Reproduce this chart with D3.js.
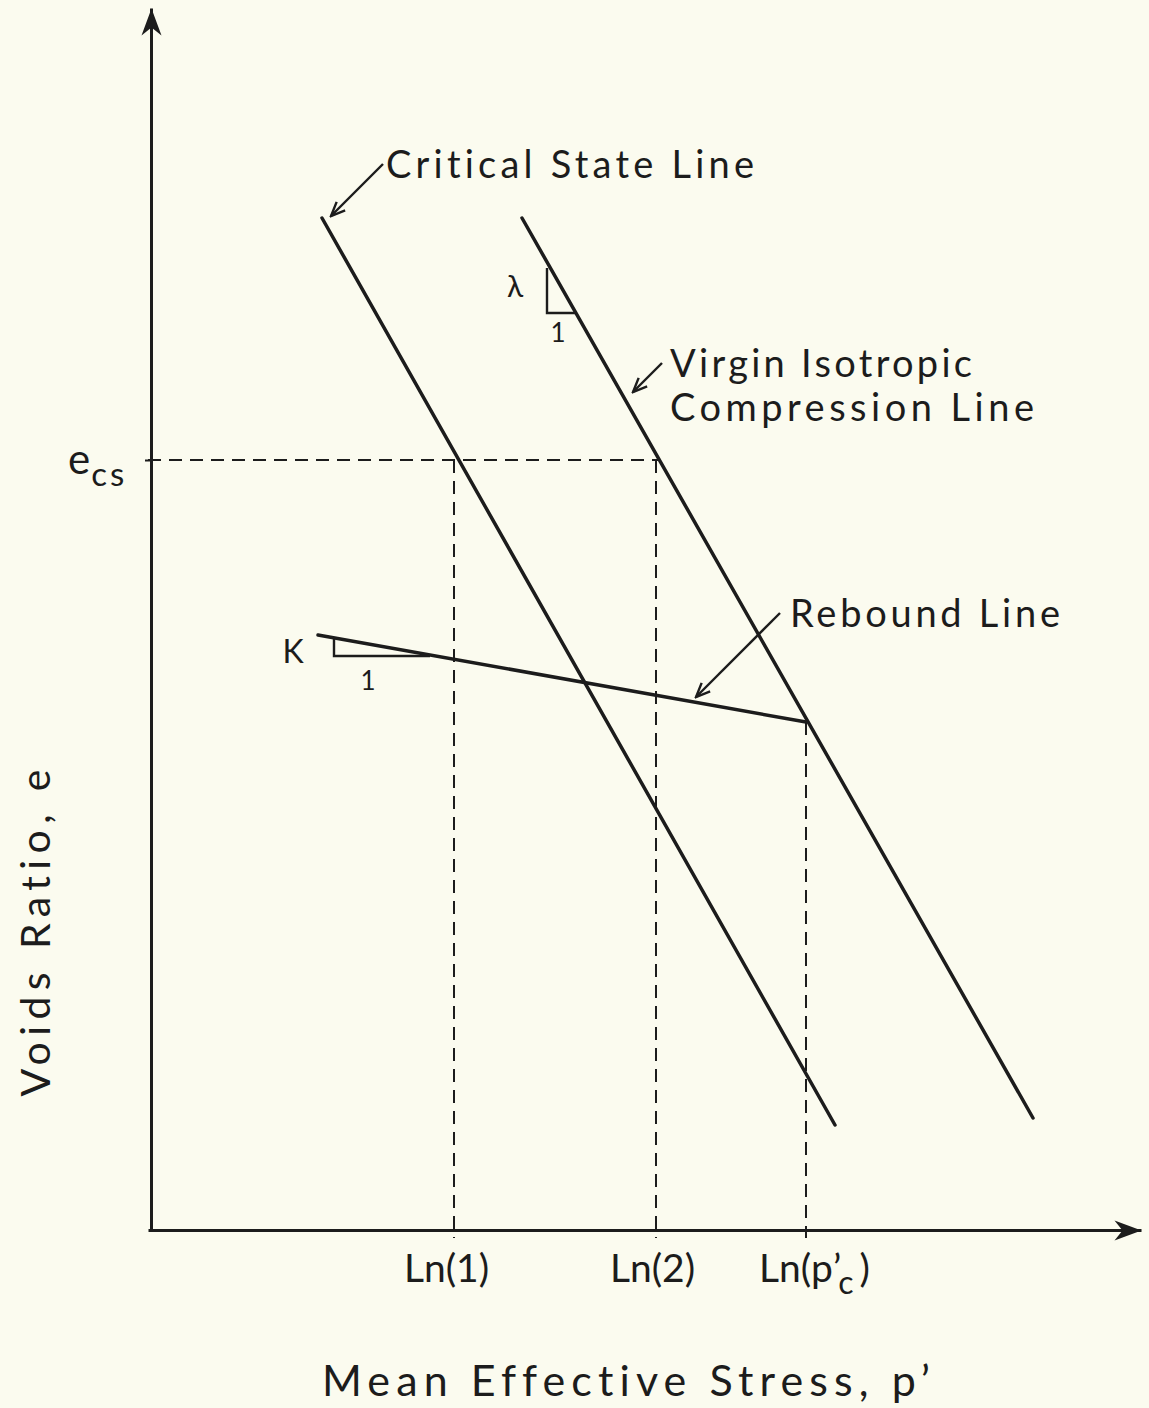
<!DOCTYPE html>
<html>
<head>
<meta charset="utf-8">
<script src="https://cdn.jsdelivr.net/npm/d3@7"></script>
<style>
  html, body { margin: 0; padding: 0; background: #fbfbef; }
  svg { display: block; }
  text {
    font-family: Lato, 'Noto Sans', sans-serif;
    fill: #1c1c1c;
    font-variant-ligatures: none;
  }
</style>
</head>
<body>
<svg width="1149" height="1408"></svg>
<script>
// Schematic e - ln p' diagram. Units are arbitrary: 1 unit = 100 px.
const X_MAX = 9.93;   // x arrow tip
const Y_MAX = 12.22;  // y arrow tip

// Straight lines, [ln p', e] end points.
const criticalStateLine = [[1.74, 10.12], [6.87, 1.05]];
const virginLine = [[3.74, 10.12], [8.85, 1.12]];
const reboundLine = [[1.70, 5.95], [6.58, 5.08]];

// Critical void ratio and the ln p' values marked on the x axis.
const eCs = 7.70;
const eCsEnd = 5.12;
const lnTicks = [3.06, 5.08, 6.58];
const lnTickLabels = ['Ln(1)', 'Ln(2)', 'Ln(pc)'];
const lnProjTop = [7.70, 7.70, 5.08];
const projBottom = -0.08;

// Slope triangles.
const lambdaTriangle = [[3.99, 9.62], [3.99, 9.17], [4.28, 9.17]];
const kappaTriangle = [[1.86, 5.92], [1.86, 5.74], [2.82, 5.74]];

// Leader arrows for the line labels: [from, to].
const leaders = [
  [[2.35, 10.66], [1.83, 10.14]],
  [[5.14, 8.67], [4.85, 8.38]],
  [[6.32, 6.17], [5.48, 5.33]],
];

const svg = d3.select('svg');
const x = d3.scaleLinear().domain([0, X_MAX]).range([148, 1141]);
const y = d3.scaleLinear().domain([0, Y_MAX]).range([1230, 8]);
const line = d3.line().x(d => x(d[0])).y(d => y(d[1]));
const INK = '#1c1c1c';

const defs = svg.append('defs');
// Filled axis arrowhead with a notched back.
defs.append('marker')
    .attr('id', 'axis-arrow')
    .attr('markerUnits', 'userSpaceOnUse')
    .attr('viewBox', '-28 -11 30 22')
    .attr('refX', 0)
    .attr('refY', 0)
    .attr('markerWidth', 30)
    .attr('markerHeight', 22)
    .attr('orient', 'auto')
    .append('path')
    .attr('d', 'M0,0 L-27,-10 L-19,0 L-27,10 Z')
    .attr('fill', INK);
// Open V arrowhead for the leaders.
defs.append('marker')
    .attr('id', 'leader-arrow')
    .attr('markerUnits', 'userSpaceOnUse')
    .attr('viewBox', '-16 -8 18 16')
    .attr('refX', 0)
    .attr('refY', 0)
    .attr('markerWidth', 18)
    .attr('markerHeight', 16)
    .attr('orient', 'auto')
    .append('path')
    .attr('d', 'M-14,-6 L0,0 L-14,6')
    .attr('fill', 'none')
    .attr('stroke', INK)
    .attr('stroke-width', 2.4);

// Dashed projections.
const dashes = svg.append('g')
    .attr('stroke', INK)
    .attr('stroke-width', 2)
    .attr('stroke-dasharray', '13 8')
    .attr('fill', 'none');
dashes.append('path')
    .attr('d', line([[0, eCs], [eCsEnd, eCs]]));
dashes.selectAll('path.proj')
    .data(lnTicks)
    .join('path')
    .classed('proj', true)
    .attr('d', (d, i) => line([[d, lnProjTop[i]], [d, projBottom]]));

// Axes.
const xAxis = svg.append('g')
    .attr('transform', `translate(0,${y(0)})`)
    .call(d3.axisBottom(x)
        .tickValues(lnTicks)
        .tickSizeOuter(0)
        .tickSizeInner(0)
        .tickPadding(0)
        .tickFormat((d, i) => lnTickLabels[i]));
xAxis.select('.domain')
    .attr('stroke', INK)
    .attr('stroke-width', 3)
    .attr('marker-end', 'url(#axis-arrow)');
xAxis.selectAll('.tick text')
    .attr('fill', INK)
    .style('font-size', '39px')
    .style('font-family', 'Lato, sans-serif')
    .attr('dy', null)
    .attr('y', 52)
    .attr('x', (d, i) => [-8, -4, 8][i])
    .each(function(d, i) {
      if (i !== 2) return;
      const t = d3.select(this).text(null);
      t.append('tspan').text('Ln(p');
      t.append('tspan').text('\u2019').attr('dx', 1);
      t.append('tspan').text('c').attr('dx', -3).attr('dy', 12)
          .style('font-size', '32px');
      t.append('tspan').text(')').attr('dx', 6).attr('dy', -12);
    });

const yAxis = svg.append('g')
    .attr('transform', `translate(${x(0) + 3},0)`)
    .call(d3.axisLeft(y)
        .tickValues([eCs])
        .tickSizeOuter(0)
        .tickSizeInner(6)
        .tickPadding(10)
        .tickFormat(() => ''));
yAxis.select('.domain')
    .attr('stroke', INK)
    .attr('stroke-width', 3)
    .attr('marker-end', 'url(#axis-arrow)');
yAxis.selectAll('.tick line').attr('stroke', INK).attr('stroke-width', 2);
const eLabel = yAxis.select('.tick text')
    .attr('fill', INK)
    .attr('dy', null)
    .attr('y', 13)
    .attr('x', -83)
    .attr('text-anchor', 'start')
    .style('font-size', '42px');
eLabel.append('tspan').text('e');
eLabel.append('tspan').text('cs').attr('dx', 1).attr('dy', 12)
    .style('font-size', '33px').style('letter-spacing', '3px');

// Main lines.
svg.append('g')
    .attr('stroke', INK)
    .attr('stroke-width', 3.5)
    .attr('fill', 'none')
    .attr('stroke-linecap', 'round')
    .selectAll('path')
    .data([criticalStateLine, virginLine, reboundLine])
    .join('path')
    .attr('d', line);

// Slope triangles.
svg.append('g')
    .attr('stroke', INK)
    .attr('stroke-width', 2.4)
    .attr('fill', 'none')
    .selectAll('path')
    .data([lambdaTriangle, kappaTriangle])
    .join('path')
    .attr('d', line);

// Leader arrows.
svg.append('g')
    .attr('stroke', INK)
    .attr('stroke-width', 2.4)
    .attr('fill', 'none')
    .selectAll('path')
    .data(leaders)
    .join('path')
    .attr('d', line)
    .attr('marker-end', 'url(#leader-arrow)');

// Text annotations: [text, x, y, size, length].
const notes = [
  ['Critical State Line', 2.38, 10.52, 38, 368],
  ['Virgin Isotropic', 5.22, 8.53, 38, 302],
  ['Compression Line', 5.22, 8.09, 38, 364],
  ['Rebound Line', 6.42, 6.03, 38, 270],
];
svg.append('g')
    .selectAll('text')
    .data(notes)
    .join('text')
    .attr('x', d => x(d[1]))
    .attr('y', d => y(d[2]))
    .style('font-size', d => `${d[3]}px`)
    .attr('textLength', d => d[4])
    .attr('lengthAdjust', 'spacing')
    .text(d => d[0]);

const marks = [
  ['\u03bb', 3.67, 9.33, 30],
  ['1', 4.10, 8.88, 26],
  ['K', 1.45, 5.67, 32],
  ['1', 2.20, 5.40, 26],
];
svg.append('g')
    .selectAll('text')
    .data(marks)
    .join('text')
    .attr('x', d => x(d[1]))
    .attr('y', d => y(d[2]))
    .attr('text-anchor', 'middle')
    .style('font-size', d => `${d[3]}px`)
    .text(d => d[0]);

// Axis titles.
svg.append('text')
    .attr('x', 626)
    .attr('y', 1396)
    .attr('text-anchor', 'middle')
    .style('font-size', '43px')
    .attr('textLength', 608)
    .attr('lengthAdjust', 'spacing')
    .text('Mean Effective Stress, p\u2019');

svg.append('text')
    .attr('transform', 'translate(50,933) rotate(-90)')
    .attr('text-anchor', 'middle')
    .style('font-size', '41px')
    .attr('textLength', 327)
    .attr('lengthAdjust', 'spacing')
    .text('Voids Ratio, e');
</script>
</body>
</html>
